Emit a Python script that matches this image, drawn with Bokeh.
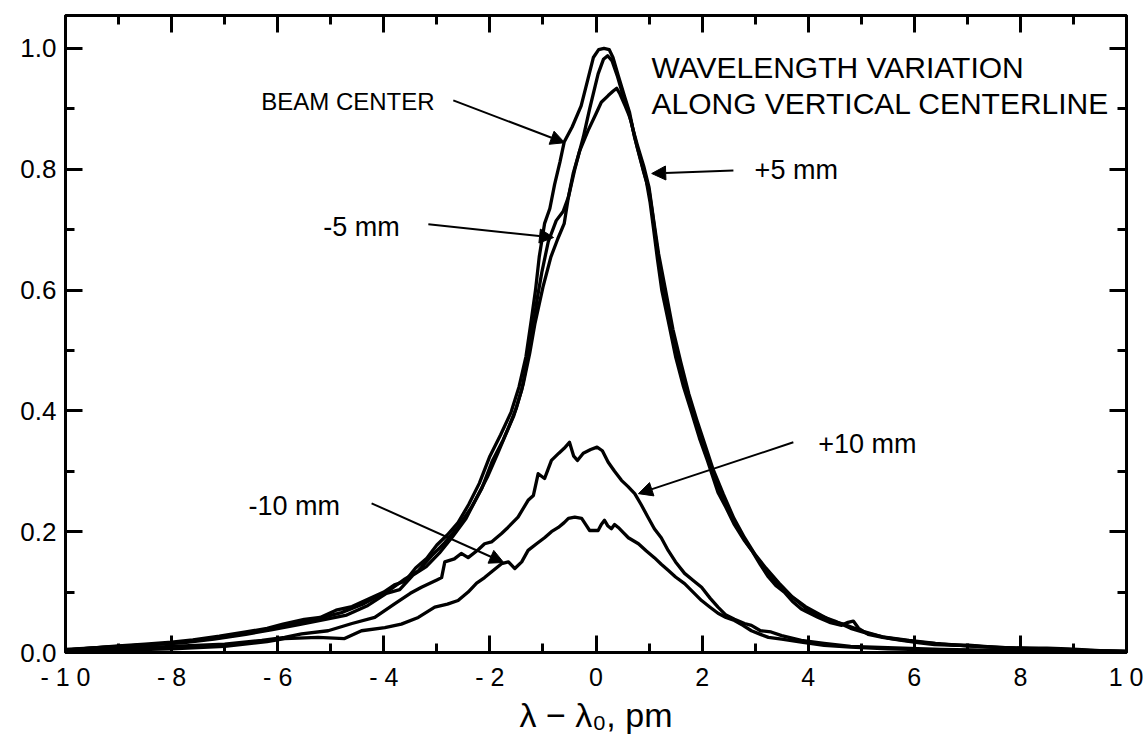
from bokeh.plotting import figure
from bokeh.models import (Range1d, LinearAxis, FixedTicker, Label, Arrow, NormalHead)
from bokeh.embed import file_html
from bokeh.resources import INLINE

# ---------------- data ----------------
beam_center_x = [-10, -9.6, -9, -8.5, -8, -7.6, -7.1, -6.6, -6.2, -5.9, -5.5, -5.2, -4.9, -4.6, -4.3,
                 -4.0, -3.8, -3.6, -3.4, -3.2, -3.0, -2.8, -2.6, -2.4, -2.2, -2.0, -1.8, -1.6, -1.45,
                 -1.32, -1.22, -1.14, -1.07, -0.97, -0.87, -0.78, -0.68, -0.6, -0.45, -0.28, -0.15,
                 -0.05, 0.05, 0.15, 0.25, 0.32, 0.42, 0.54, 0.63, 0.73, 0.86, 0.95, 1.02, 1.08, 1.16,
                 1.24, 1.36, 1.5, 1.65, 1.8, 1.95, 2.1, 2.3, 2.45, 2.6, 2.8, 2.95, 3.1, 3.25, 3.4,
                 3.55, 3.7, 3.87, 4.0, 4.19, 4.4, 4.63, 4.75, 4.85, 4.95, 5.13, 5.4, 5.76, 6.1, 6.38,
                 6.8, 7.02, 7.5, 7.96, 8.5, 8.9, 9.5, 10]
beam_center_y = [0.004, 0.007, 0.011, 0.014, 0.017, 0.021, 0.027, 0.034, 0.040, 0.047, 0.055, 0.058,
                 0.070, 0.076, 0.088, 0.100, 0.112, 0.118, 0.140, 0.155, 0.178, 0.195, 0.215, 0.245,
                 0.280, 0.325, 0.360, 0.398, 0.440, 0.490, 0.550, 0.600, 0.655, 0.710, 0.735, 0.775,
                 0.812, 0.845, 0.870, 0.905, 0.950, 0.985, 0.998, 1.000, 0.998, 0.985, 0.955, 0.920,
                 0.895, 0.852, 0.810, 0.780, 0.745, 0.705, 0.650, 0.600, 0.550, 0.490, 0.440, 0.398,
                 0.355, 0.318, 0.265, 0.240, 0.213, 0.185, 0.167, 0.145, 0.125, 0.110, 0.100, 0.085,
                 0.072, 0.066, 0.058, 0.050, 0.045, 0.050, 0.052, 0.040, 0.030, 0.025, 0.020, 0.016,
                 0.013, 0.012, 0.012, 0.009, 0.007, 0.007, 0.006, 0.003, 0.002]

plus5_x = [-10, -9.2, -8.4, -7.7, -7.0, -6.5, -6.0, -5.6, -5.2, -4.8, -4.4, -4.1, -3.85, -3.6, -3.35,
           -3.1, -2.85, -2.6, -2.35, -2.15, -1.95, -1.75, -1.55, -1.4, -1.28, -1.18, -1.1, -1.02,
           -0.9, -0.75, -0.62, -0.52, -0.4, -0.24, -0.12, 0.04, 0.14, 0.22, 0.3, 0.4, 0.5, 0.6,
           0.68, 0.78, 0.9, 1.0, 1.06, 1.12, 1.2, 1.3, 1.45, 1.6, 1.75, 1.9, 2.05, 2.25, 2.45, 2.65,
           2.85, 3.05, 3.3, 3.5, 3.75, 4.0, 4.25, 4.5, 4.8, 5.1, 5.5, 6.0, 6.5, 7.0, 7.6, 8.3, 9.0, 10]
plus5_y = [0.005, 0.009, 0.013, 0.018, 0.026, 0.033, 0.042, 0.050, 0.057, 0.066, 0.080, 0.094,
           0.106, 0.122, 0.135, 0.160, 0.182, 0.208, 0.240, 0.272, 0.318, 0.352, 0.392, 0.435,
           0.490, 0.545, 0.590, 0.630, 0.680, 0.715, 0.730, 0.754, 0.800, 0.853, 0.900, 0.958,
           0.982, 0.988, 0.980, 0.955, 0.925, 0.900, 0.872, 0.835, 0.795, 0.765, 0.730, 0.690,
           0.640, 0.590, 0.520, 0.470, 0.420, 0.375, 0.335, 0.285, 0.245, 0.210, 0.180, 0.155,
           0.125, 0.105, 0.088, 0.070, 0.060, 0.052, 0.040, 0.032, 0.024, 0.018, 0.014, 0.011,
           0.008, 0.006, 0.004, 0.002]

minus5_x = [-10, -9.4, -8.6, -7.8, -7.2, -6.6, -6.1, -5.6, -5.1, -4.7, -4.3, -3.95, -3.7, -3.45,
            -3.2, -2.95, -2.7, -2.45, -2.25, -2.05, -1.85, -1.65, -1.5, -1.37, -1.25, -1.15, -1.0,
            -0.85, -0.72, -0.6, -0.52, -0.43, -0.31, -0.15, 0.0, 0.1, 0.23, 0.33, 0.39, 0.45, 0.55,
            0.62, 0.66, 0.7, 0.78, 0.9, 1.0, 1.08, 1.18, 1.3, 1.45, 1.6, 1.75, 1.9, 2.05, 2.2, 2.4,
            2.6, 2.8, 3.0, 3.2, 3.45, 3.7, 3.95, 4.2, 4.45, 4.7, 5.0, 5.4, 5.9, 6.4, 7.0, 7.7, 8.5,
            9.3, 10]
minus5_y = [0.004, 0.008, 0.012, 0.016, 0.022, 0.030, 0.038, 0.046, 0.055, 0.062, 0.078, 0.098,
            0.104, 0.128, 0.142, 0.165, 0.192, 0.222, 0.256, 0.290, 0.330, 0.372, 0.405, 0.445,
            0.495, 0.545, 0.605, 0.655, 0.685, 0.710, 0.754, 0.793, 0.830, 0.864, 0.892, 0.911,
            0.922, 0.930, 0.934, 0.925, 0.905, 0.890, 0.880, 0.865, 0.840, 0.805, 0.770, 0.720,
            0.660, 0.605, 0.535, 0.480, 0.428, 0.385, 0.345, 0.305, 0.262, 0.222, 0.190, 0.162,
            0.140, 0.115, 0.092, 0.076, 0.064, 0.052, 0.046, 0.036, 0.026, 0.020, 0.015, 0.011,
            0.008, 0.006, 0.003, 0.002]

plus10_x = [-10, -9, -8, -7, -6.3, -5.87, -5.55, -5.05, -4.6, -4.17, -3.79, -3.5, -3.29, -3.0,
            -2.91, -2.85, -2.67, -2.54, -2.41, -2.22, -2.1, -1.97, -1.78, -1.66, -1.47, -1.28,
            -1.18, -1.09, -0.97, -0.84, -0.7, -0.6, -0.5, -0.42, -0.35, -0.24, -0.1, 0.02, 0.12,
            0.23, 0.35, 0.48, 0.6, 0.73, 0.85, 0.98, 1.1, 1.23, 1.36, 1.5, 1.67, 1.85, 1.99, 2.15,
            2.3, 2.45, 2.61, 2.8, 2.93, 3.1, 3.3, 3.5, 3.87, 4.3, 4.8, 5.5, 6.5, 8, 10]
plus10_y = [0.003, 0.006, 0.010, 0.014, 0.020, 0.025, 0.031, 0.036, 0.048, 0.058, 0.081, 0.098,
            0.108, 0.120, 0.124, 0.150, 0.155, 0.164, 0.157, 0.170, 0.180, 0.183, 0.197, 0.207,
            0.224, 0.252, 0.260, 0.296, 0.288, 0.318, 0.330, 0.338, 0.348, 0.325, 0.318, 0.330,
            0.336, 0.340, 0.334, 0.315, 0.300, 0.285, 0.275, 0.263, 0.245, 0.224, 0.205, 0.190,
            0.169, 0.150, 0.131, 0.118, 0.108, 0.090, 0.075, 0.062, 0.055, 0.048, 0.045, 0.036,
            0.034, 0.028, 0.020, 0.015, 0.010, 0.008, 0.005, 0.003, 0.001]

minus10_x = [-10, -9, -8, -7, -6.2, -5.87, -5.24, -4.74, -4.42, -3.98, -3.67, -3.35, -3.04, -2.8,
             -2.6, -2.41, -2.25, -2.1, -1.95, -1.78, -1.65, -1.53, -1.4, -1.28, -1.12, -0.97, -0.84,
             -0.71, -0.6, -0.52, -0.4, -0.27, -0.18, -0.12, 0.04, 0.1, 0.16, 0.22, 0.29, 0.35, 0.42,
             0.52, 0.61, 0.8, 0.95, 1.1, 1.23, 1.36, 1.5, 1.67, 1.83, 1.99, 2.15, 2.3, 2.45, 2.61,
             2.77, 2.93, 3.1, 3.25, 3.5, 3.87, 4.3, 4.8, 5.5, 6.5, 8, 10]
minus10_y = [0.002, 0.004, 0.006, 0.010, 0.018, 0.023, 0.025, 0.023, 0.036, 0.041, 0.047, 0.058,
             0.075, 0.080, 0.086, 0.100, 0.115, 0.124, 0.135, 0.147, 0.150, 0.139, 0.150, 0.169,
             0.180, 0.190, 0.200, 0.207, 0.215, 0.222, 0.224, 0.222, 0.210, 0.202, 0.202, 0.212,
             0.219, 0.210, 0.205, 0.212, 0.207, 0.198, 0.190, 0.180, 0.168, 0.157, 0.146, 0.136,
             0.125, 0.114, 0.100, 0.086, 0.075, 0.065, 0.058, 0.053, 0.045, 0.036, 0.030, 0.025,
             0.022, 0.017, 0.012, 0.009, 0.006, 0.004, 0.002, 0.001]

x_major_ticks = [-10, -8, -6, -4, -2, 0, 2, 4, 6, 8, 10]
x_minor_ticks = [-9, -7, -5, -3, -1, 1, 3, 5, 7, 9]
x_tick_labels = ["- 1 0", "- 8", "- 6", "- 4", "- 2", "0", "2", "4", "6", "8", "1 0"]
y_major_ticks = [0.0, 0.2, 0.4, 0.6, 0.8, 1.0]
y_minor_ticks = [0.1, 0.3, 0.5, 0.7, 0.9]
y_tick_labels = ["0.0", "0.2", "0.4", "0.6", "0.8", "1.0"]

title_lines = ["WAVELENGTH VARIATION", "ALONG VERTICAL CENTERLINE"]
# annotation texts with (text x, text y) and arrow (tail x, tail y, tip x, tip y)
notes = [
    ("BEAM CENTER", -6.31, 0.912, "24px", (-2.69, 0.914, -0.59, 0.844)),
    ("+5 mm", 2.99, 0.798, "27px", (2.59, 0.798, 1.05, 0.793)),
    ("-5 mm", -5.14, 0.705, "27px", (-3.16, 0.709, -0.80, 0.687)),
    ("+10 mm", 4.19, 0.345, "27px", (3.72, 0.348, 0.80, 0.263)),
    ("-10 mm", -6.55, 0.243, "27px", (-4.23, 0.247, -1.74, 0.149)),
]

FONT = "Liberation Sans"

p = figure(width=1143, height=739, output_backend="svg", toolbar_location=None,
           x_range=Range1d(-10, 10), y_range=Range1d(0, 1.0546),
           min_border_left=65, min_border_right=17, min_border_top=15, min_border_bottom=87)
p.grid.visible = False
p.outline_line_color = "black"
p.outline_line_width = 3
p.background_fill_color = "white"
p.border_fill_color = "white"

xt = FixedTicker(ticks=x_major_ticks, minor_ticks=x_minor_ticks)
yt = FixedTicker(ticks=y_major_ticks, minor_ticks=y_minor_ticks)

def style(ax):
    ax.axis_line_width = 3
    ax.axis_line_color = "black"
    ax.major_tick_in = 17
    ax.major_tick_out = 0
    ax.minor_tick_in = 9
    ax.minor_tick_out = 0
    ax.major_tick_line_width = 3
    ax.minor_tick_line_width = 3
    ax.major_tick_line_color = "black"
    ax.minor_tick_line_color = "black"
    ax.major_label_text_font = FONT
    ax.major_label_text_color = "black"

xa = p.xaxis[0]
xa.ticker = xt
style(xa)
xa.major_label_overrides = {t: s for t, s in zip(x_major_ticks, x_tick_labels)}
xa.major_label_text_font_size = "25px"
xa.major_label_standoff = 10
xa.axis_label = "λ − λ₀, pm"
xa.axis_label_text_font = FONT
xa.axis_label_text_font_size = "34px"
xa.axis_label_text_font_style = "normal"
xa.axis_label_text_color = "black"
xa.axis_label_standoff = 2

ya = p.yaxis[0]
ya.ticker = yt
style(ya)
ya.major_label_overrides = {t: s for t, s in zip(y_major_ticks, y_tick_labels)}
ya.major_label_text_font_size = "26px"
ya.major_label_standoff = 9

top = LinearAxis(ticker=xt)
style(top)
top.major_label_text_font_size = "0px"
top.major_label_standoff = 0
top.major_label_overrides = {t: "" for t in x_major_ticks}
p.add_layout(top, "above")

right = LinearAxis(ticker=yt)
style(right)
right.major_label_text_font_size = "0px"
right.major_label_standoff = 0
right.major_label_overrides = {t: "" for t in y_major_ticks}
p.add_layout(right, "right")

for xs, ys in [(beam_center_x, beam_center_y), (plus5_x, plus5_y), (minus5_x, minus5_y),
               (plus10_x, plus10_y), (minus10_x, minus10_y)]:
    p.line(xs, ys, line_color="black", line_width=3.3, line_join="round")

for i, line in enumerate(title_lines):
    p.add_layout(Label(x=1.046, y=0.968 - 0.059 * i, text=line, text_font=FONT,
                       text_font_size="30px", text_baseline="middle", text_align="left",
                       text_color="black"))

for text, tx, ty, fs, (ax0, ay0, ax1, ay1) in notes:
    p.add_layout(Label(x=tx, y=ty, text=text, text_font=FONT, text_font_size=fs,
                       text_baseline="middle", text_align="left", text_color="black"))
    p.add_layout(Arrow(x_start=ax0, y_start=ay0, x_end=ax1, y_end=ay1, line_width=2,
                       line_color="black",
                       end=NormalHead(size=14, fill_color="black", line_color="black")))

open("out.html", "w").write(file_html(p, INLINE))
